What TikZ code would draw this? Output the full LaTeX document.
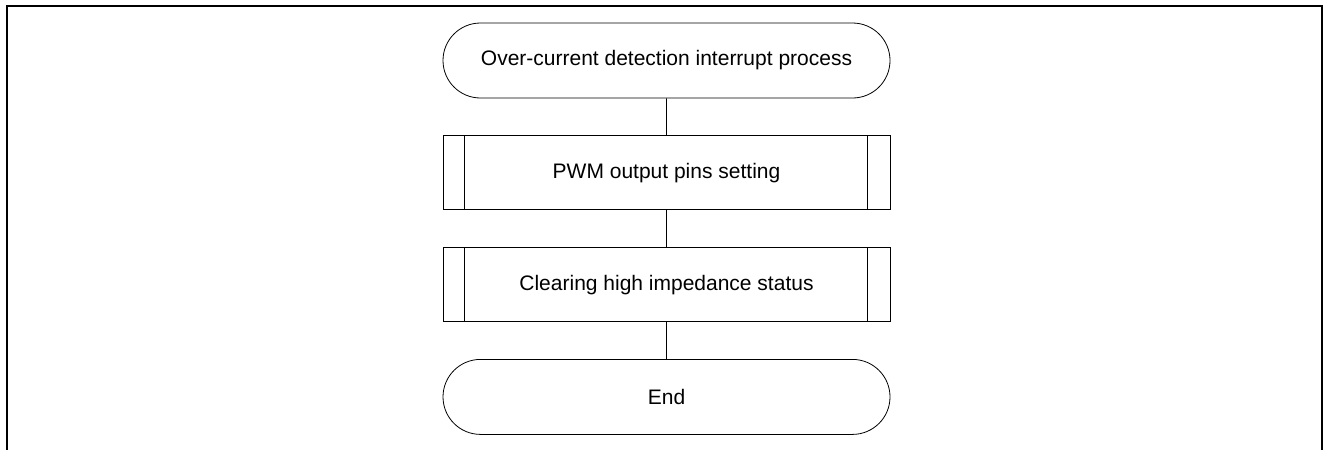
\documentclass[tikz,border=0pt]{standalone}
\usepackage{fontspec}
\setmainfont{Liberation Sans}
\usetikzlibrary{shapes,positioning}

\begin{document}
\begin{tikzpicture}
					[
						x=0.75pt, y=-0.75pt,
						node distance=27.75pt,
						termnode/.style={rounded rectangle, draw, line width=0.6pt, minimum width=335.25pt, minimum height=56.25pt, inner sep=0pt, font=\fontsize{15.75}{19}\selectfont},
						subnode/.style={rectangle, draw, line width=0.6pt, minimum width=335.25pt, minimum height=55.5pt, inner sep=0pt, font=\fontsize{15.75}{19}\selectfont,
							path picture={
								\draw[line width=0.6pt] ([xshift=16pt]path picture bounding box.north west) -- ([xshift=16pt]path picture bounding box.south west);
								\draw[line width=0.6pt] ([xshift=-17pt]path picture bounding box.north east) -- ([xshift=-17pt]path picture bounding box.south east);
							}},
						framebox/.style={line width=1.5pt},
					]

					\useasboundingbox (0,0) rectangle (1330,450);
					\draw[framebox] (6.5,450) -- (6.5,5.5) -- (1321.5,5.5) -- (1321.5,450);

					\node[termnode] (start) at (666.5,60.5) {Over-current detection interrupt process};
					\node[subnode] (pwmpins) [below=of start] {PWM output pins setting};
					\node[subnode] (clearhiz) [below=of pwmpins] {Clearing high impedance status};
					\node[termnode] (finish) [below=of clearhiz] {End};

					\draw[line width=0.6pt] (start) -- (pwmpins);
					\draw[line width=0.6pt] (pwmpins) -- (clearhiz);
					\draw[line width=0.6pt] (clearhiz) -- (finish);

				\end{tikzpicture}
\end{document}
